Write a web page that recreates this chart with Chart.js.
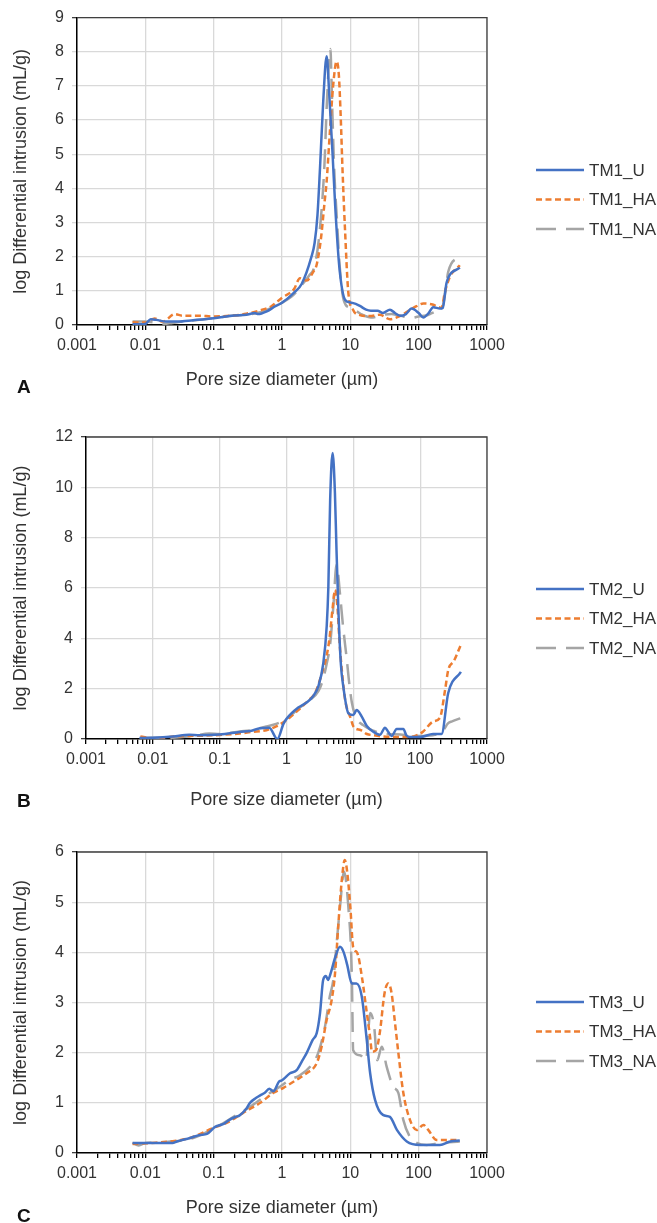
<!DOCTYPE html>
<html>
<head>
<meta charset="utf-8">
<title>Pore size distribution TM1-TM3</title>
<script src="https://cdn.jsdelivr.net/npm/chart.js@4.4.1/dist/chart.umd.min.js"></script>
<style>
  body { margin: 0; background: #fff; width: 657px; height: 1223px; position: relative; overflow: hidden;
         font-family: "Liberation Sans", Arial, Helvetica, sans-serif; }
  .panel { position: absolute; left: 0; width: 657px; }
  .tag { position: absolute; left: 17px; font-size: 19px; font-weight: bold; line-height: 19px; color: #111; }
</style>
</head>
<body>
<div class="panel" style="top:0;height:410px"><canvas id="chartA"></canvas></div>
<div class="panel" style="top:410px;height:410px"><canvas id="chartB"></canvas></div>
<div class="panel" style="top:820px;height:403px"><canvas id="chartC"></canvas></div>
<div class="tag" style="top:377px">A</div>
<div class="tag" style="top:791px">B</div>
<div class="tag" style="top:1206px">C</div>

<script>
// ---- x axis (log) ----
const xDecades = [0.001, 0.01, 0.1, 1, 10, 100, 1000];
const xTickLabels = ['0.001', '0.01', '0.1', '1', '10', '100', '1000'];

// ---- Panel A : TM1 ----
const tm1uPore = [0.0065, 0.008, 0.01, 0.012, 0.0145, 0.02, 0.03, 0.05, 0.1, 0.2, 0.3, 0.4, 0.45, 0.6, 0.8, 1, 1.5, 1.94, 2.7, 3.0, 3.3, 3.6, 4.0, 4.5, 4.9, 5.5, 6.0, 6.9, 8.4, 10, 12, 14, 17, 20, 25, 30, 38, 45, 54, 65, 79, 100, 117, 140, 163, 205, 225, 257, 400];
const tm1uVal  = [0.02, 0.02, 0.03, 0.17, 0.15, 0.1, 0.1, 0.14, 0.2, 0.28, 0.3, 0.35, 0.32, 0.4, 0.55, 0.65, 0.95, 1.2, 2.0, 2.4, 3.2, 4.6, 6.5, 7.87, 6.8, 5.0, 3.5, 1.7, 0.73, 0.66, 0.62, 0.55, 0.45, 0.42, 0.42, 0.35, 0.45, 0.35, 0.27, 0.32, 0.48, 0.35, 0.22, 0.35, 0.52, 0.48, 0.5, 1.25, 1.68];

const tm1haPore = [0.0065, 0.01, 0.0137, 0.018, 0.027, 0.035, 0.06, 0.1, 0.2, 0.3, 0.5, 0.7, 1, 1.5, 1.83, 2.3, 2.85, 3.2, 3.7, 4.2, 4.5, 5.0, 5.6, 6.3, 6.8, 7.2, 7.7, 8.4, 9.3, 11, 13.8, 19, 27, 38, 53, 74, 93, 117, 160, 196, 217, 240, 285, 400];
const tm1haVal  = [0.08, 0.07, 0.19, 0.1, 0.32, 0.27, 0.27, 0.25, 0.28, 0.33, 0.44, 0.55, 0.8, 1.05, 1.37, 1.3, 1.55, 1.75, 2.5, 3.6, 4.2, 5.6, 7.0, 7.72, 7.3, 6.2, 4.5, 2.7, 1.0, 0.44, 0.29, 0.26, 0.3, 0.17, 0.26, 0.44, 0.55, 0.63, 0.6, 0.52, 0.5, 0.93, 1.4, 1.75];

const tm1naPore = [0.0065, 0.01, 0.013, 0.018, 0.025, 0.035, 0.05, 0.1, 0.2, 0.3, 0.5, 0.7, 1, 1.5, 2, 2.5, 2.97, 3.5, 4.16, 4.55, 5.1, 5.4, 5.8, 6.4, 7.0, 8.0, 10, 12, 15, 20, 25, 30, 40, 50, 60, 75, 100, 130, 150, 200, 225, 255, 270, 400];
const tm1naVal  = [0.1, 0.1, 0.08, 0.03, 0.06, 0.1, 0.13, 0.2, 0.28, 0.3, 0.38, 0.5, 0.65, 0.9, 1.2, 1.45, 1.7, 2.6, 4.6, 6.55, 8.08, 6.55, 4.6, 3.0, 1.7, 0.73, 0.5, 0.42, 0.3, 0.22, 0.25, 0.3, 0.32, 0.28, 0.25, 0.2, 0.25, 0.28, 0.33, 0.45, 0.55, 1.22, 1.55, 2.02];

// ---- Panel B : TM2 ----
const tm2uPore = [0.0063, 0.01, 0.02, 0.035, 0.05, 0.1, 0.2, 0.3, 0.4, 0.55, 0.73, 0.9, 1.0, 1.5, 2.0, 2.5, 3.0, 3.55, 4.0, 4.23, 4.5, 4.9, 5.3, 5.6, 6.0, 6.5, 7.08, 8.4, 10, 11.2, 13.3, 15.9, 19.9, 25, 29.8, 33, 37.4, 44.6, 56, 62, 70, 100, 156, 209, 263, 407];
const tm2uVal  = [0.04, 0.05, 0.1, 0.17, 0.15, 0.18, 0.28, 0.33, 0.43, 0.45, 0.0, 0.6, 0.8, 1.25, 1.45, 1.7, 2.1, 3.0, 4.5, 6.05, 9.5, 11.36, 9.8, 7.5, 5.0, 3.0, 2.08, 1.03, 0.95, 1.15, 0.9, 0.52, 0.29, 0.17, 0.45, 0.3, 0.12, 0.4, 0.4, 0.15, 0.08, 0.08, 0.2, 0.2, 1.83, 2.67];

const tm2haPore = [0.0065, 0.008, 0.01, 0.015, 0.02, 0.05, 0.1, 0.2, 0.3, 0.5, 0.7, 1, 1.5, 2.18, 2.7, 3.38, 3.98, 4.4, 4.9, 5.35, 5.8, 6.2, 6.8, 7.6, 9.2, 10, 12.9, 15.9, 20, 28, 50, 70, 90, 110, 156, 198, 236, 263, 320, 400];
const tm2haVal  = [0.1, 0.06, 0.02, 0.05, 0.1, 0.13, 0.16, 0.22, 0.28, 0.35, 0.5, 0.75, 1.15, 1.56, 1.85, 2.6, 3.3, 4.0, 5.2, 5.93, 5.2, 3.9, 2.6, 1.5, 0.8, 0.5, 0.35, 0.2, 0.15, 0.1, 0.08, 0.08, 0.15, 0.29, 0.69, 0.85, 1.95, 2.74, 3.1, 3.7];

const tm2naPore = [0.0065, 0.01, 0.02, 0.04, 0.07, 0.1, 0.2, 0.3, 0.5, 0.7, 1, 1.5, 2, 3, 3.55, 4.0, 4.47, 5.0, 5.63, 6.3, 7.0, 7.95, 8.7, 9.5, 10.8, 14, 20, 28, 50, 70, 100, 156, 215, 263, 300, 407];
const tm2naVal  = [0.05, 0.05, 0.05, 0.12, 0.22, 0.2, 0.3, 0.35, 0.5, 0.6, 0.8, 1.2, 1.45, 1.9, 2.4, 3.0, 3.7, 5.2, 6.93, 5.8, 4.5, 3.2, 2.2, 1.45, 0.89, 0.55, 0.33, 0.22, 0.18, 0.15, 0.12, 0.15, 0.3, 0.63, 0.7, 0.83];

// ---- Panel C : TM3 ----
const tm3uPore = [0.0065, 0.0117, 0.015, 0.025, 0.029, 0.045, 0.063, 0.08, 0.105, 0.14, 0.17, 0.21, 0.24, 0.3, 0.34, 0.42, 0.48, 0.56, 0.65, 0.75, 0.9, 1.0, 1.31, 1.64, 2.0, 2.29, 2.8, 3.22, 3.6, 4.0, 4.4, 4.7, 5.2, 6.0, 7.06, 8.0, 9.0, 10.5, 12.3, 14.7, 17.4, 19.5, 23, 30, 38, 48, 67, 105, 205, 290, 400];
const tm3uVal  = [0.2, 0.2, 0.2, 0.2, 0.23, 0.3, 0.36, 0.38, 0.52, 0.58, 0.66, 0.72, 0.75, 0.88, 1.0, 1.1, 1.15, 1.2, 1.28, 1.23, 1.42, 1.45, 1.59, 1.65, 1.85, 1.99, 2.25, 2.39, 2.79, 3.45, 3.53, 3.45, 3.6, 3.9, 4.11, 4.0, 3.75, 3.38, 3.38, 3.12, 2.25, 1.59, 1.06, 0.76, 0.72, 0.46, 0.23, 0.16, 0.16, 0.23, 0.25];

const tm3haPore = [0.0065, 0.012, 0.023, 0.045, 0.099, 0.155, 0.27, 0.48, 0.75, 1.05, 1.64, 2.29, 3.22, 3.8, 4.5, 5.33, 5.97, 6.7, 7.5, 8.3, 9.0, 10, 11, 12.5, 15, 17, 19.5, 20.7, 23.8, 27, 31.8, 36, 40, 45, 50.4, 59.6, 74.6, 93.6, 117, 138, 183, 290, 400];
const tm3haVal  = [0.18, 0.2, 0.23, 0.3, 0.5, 0.6, 0.8, 1.0, 1.2, 1.3, 1.46, 1.59, 1.79, 2.12, 2.65, 3.05, 3.58, 4.58, 5.44, 5.84, 5.6, 4.9, 4.1, 4.0, 3.45, 2.9, 2.3, 2.02, 2.05, 2.4, 3.2, 3.38, 3.2, 2.6, 2.0, 1.2, 0.66, 0.46, 0.56, 0.46, 0.26, 0.26, 0.26];

const tm3naPore = [0.0065, 0.008, 0.01, 0.02, 0.05, 0.11, 0.195, 0.34, 0.6, 0.93, 1.31, 1.83, 2.57, 3.38, 4.26, 5.0, 5.63, 6.3, 7.07, 8.07, 9.35, 10.5, 11, 13.8, 17, 19.5, 22.3, 24.8, 28.8, 34, 42.5, 50.4, 59.6, 74.6, 93.6, 131, 205, 400];
const tm3naVal  = [0.2, 0.15, 0.2, 0.22, 0.3, 0.52, 0.72, 0.92, 1.16, 1.32, 1.46, 1.55, 1.72, 1.99, 2.52, 3.12, 3.45, 4.18, 4.91, 5.61, 4.91, 3.58, 2.05, 1.95, 1.85, 2.79, 2.52, 1.85, 2.12, 1.72, 1.32, 1.2, 0.66, 0.32, 0.2, 0.16, 0.2, 0.23];

// ---- styles ----
const FONT = '"Liberation Sans", Arial, Helvetica, sans-serif';
const INK = '#333333';
const GRID = '#d9d9d9';
const seriesStyle = {
  U:  { borderColor: '#4472C4', borderDash: [] },
  HA: { borderColor: '#ED7D31', borderDash: [6, 3.5] },
  NA: { borderColor: '#A5A5A5', borderDash: [20, 10] }
};

// decade + 2..9 minor ticks, like the Excel log axis
function buildLogTicks(scale) {
  const ticks = [];
  xDecades.forEach((d, i) => {
    ticks.push({ value: d, decade: true });
    if (i < xDecades.length - 1) {
      for (let m = 2; m <= 9; m++) ticks.push({ value: d * m, decade: false });
    }
  });
  scale.ticks = ticks;
}

const sideLegend = {
  id: 'sideLegend',
  afterDraw(chart, args, opts) {
    const ctx = chart.ctx;
    ctx.save();
    chart.data.datasets.forEach((ds, i) => {
      const y = opts.top + i * opts.gap;
      ctx.beginPath();
      ctx.setLineDash(ds.borderDash);
      ctx.lineWidth = ds.borderWidth;
      ctx.strokeStyle = ds.borderColor;
      ctx.moveTo(opts.x1, y);
      ctx.lineTo(opts.x2, y);
      ctx.stroke();
      ctx.setLineDash([]);
      ctx.fillStyle = INK;
      ctx.font = '17px ' + FONT;
      ctx.textBaseline = 'middle';
      ctx.fillText(ds.label, opts.x2 + 5, y + 1);
    });
    ctx.restore();
  }
};

const plotFrame = {
  id: 'plotFrame',
  afterDraw(chart) {
    const { ctx, chartArea: a } = chart;
    ctx.save();
    ctx.strokeStyle = '#404040';
    ctx.lineWidth = 1.3;
    ctx.beginPath();
    ctx.moveTo(a.left, a.top);
    ctx.lineTo(a.right, a.top);
    ctx.lineTo(a.right, a.bottom);
    ctx.stroke();
    ctx.restore();
  }
};

function makePanel(id, cfg) {
  const datasets = cfg.series.map(s => ({
    label: s.label,
    data: s.pore.map((p, i) => ({ x: p, y: s.val[i] })),
    borderColor: seriesStyle[s.kind].borderColor,
    borderDash: seriesStyle[s.kind].borderDash,
    borderWidth: 2.5,
    borderCapStyle: 'butt',
    pointRadius: 0,
    fill: false,
    cubicInterpolationMode: 'monotone'
  }));

  return new Chart(document.getElementById(id), {
    type: 'line',
    data: { datasets },
    plugins: [plotFrame, sideLegend],
    options: {
      responsive: true,
      maintainAspectRatio: false,
      animation: false,
      events: [],
      layout: { padding: { top: cfg.padTop, right: 170, left: 0, bottom: 0 } },
      plugins: {
        legend: { display: false },
        tooltip: { enabled: false },
        sideLegend: { x1: 536, x2: 584, top: cfg.legendTop, gap: 29.5 }
      },
      scales: {
        x: {
          type: 'logarithmic',
          min: 0.001, max: 1000,
          afterBuildTicks: buildLogTicks,
          afterFit: s => { s.height = cfg.xHeight; },
          ticks: {
            autoSkip: false, maxRotation: 0, padding: 6,
            color: INK, font: { family: FONT, size: 16 },
            callback: v => {
              const i = xDecades.findIndex(d => Math.abs(d - v) < d * 1e-6);
              return i >= 0 ? xTickLabels[i] : '';
            }
          },
          grid: {
            color: c => (c.tick && c.tick.decade) ? GRID : 'rgba(0,0,0,0)',
            tickColor: '#000', lineWidth: 1.3, tickWidth: 1.3, tickLength: 5
          },
          border: { color: '#000', width: 1.5 },
          title: { display: true, text: 'Pore size diameter (µm)', color: INK,
                   font: { family: FONT, size: 18 }, padding: { top: 0, bottom: cfg.xTitlePad } }
        },
        y: {
          min: 0, max: cfg.yMax,
          afterFit: s => { s.width = cfg.yWidth; },
          ticks: { stepSize: cfg.yStep, padding: 8, color: INK, font: { family: FONT, size: 16 } },
          grid: {
            color: GRID, lineWidth: 1.3, tickLength: 5,
            tickColor: c => (c.tick && (c.tick.value === 0 || c.tick.value === cfg.yMax)) ? '#404040' : GRID
          },
          border: { color: '#000', width: 1.5 },
          title: { display: true, text: 'log Differential intrusion (mL/g)', color: INK,
                   font: { family: FONT, size: 18 }, padding: { top: 10, bottom: 0 } }
        }
      }
    }
  });
}

makePanel('chartA', {
  padTop: 16, yWidth: 77, xHeight: 85, xTitlePad: 19, yMax: 9, yStep: 1, legendTop: 170,
  series: [
    { label: 'TM1_U',  kind: 'U',  pore: tm1uPore,  val: tm1uVal },
    { label: 'TM1_HA', kind: 'HA', pore: tm1haPore, val: tm1haVal },
    { label: 'TM1_NA', kind: 'NA', pore: tm1naPore, val: tm1naVal }
  ]
});

makePanel('chartB', {
  padTop: 27, yWidth: 86, xHeight: 81, xTitlePad: 9, yMax: 12, yStep: 2, legendTop: 179,
  series: [
    { label: 'TM2_U',  kind: 'U',  pore: tm2uPore,  val: tm2uVal },
    { label: 'TM2_HA', kind: 'HA', pore: tm2haPore, val: tm2haVal },
    { label: 'TM2_NA', kind: 'NA', pore: tm2naPore, val: tm2naVal }
  ]
});

makePanel('chartC', {
  padTop: 32, yWidth: 77, xHeight: 70, xTitlePad: 4, yMax: 6, yStep: 1, legendTop: 182,
  series: [
    { label: 'TM3_U',  kind: 'U',  pore: tm3uPore,  val: tm3uVal },
    { label: 'TM3_HA', kind: 'HA', pore: tm3haPore, val: tm3haVal },
    { label: 'TM3_NA', kind: 'NA', pore: tm3naPore, val: tm3naVal }
  ]
});
</script>
</body>
</html>
